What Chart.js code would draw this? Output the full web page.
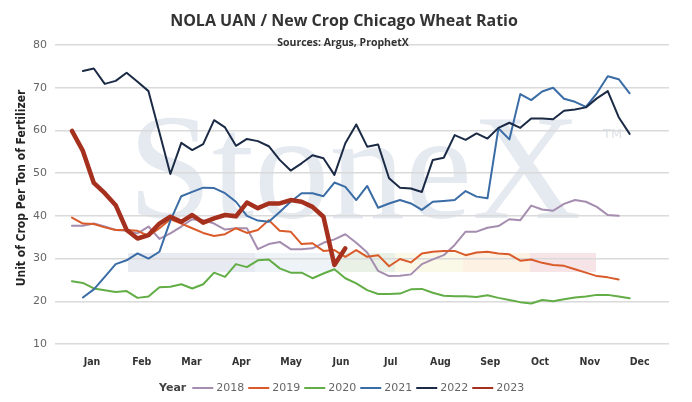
<!DOCTYPE html>
<html>
<head>
<meta charset="utf-8">
<script src="https://cdn.jsdelivr.net/npm/chart.js@4.4.0/dist/chart.umd.min.js"></script>
<style>
  html, body { margin: 0; padding: 0; background: #fff; }
</style>
</head>
<body>
<canvas id="ratioChart" width="692" height="402"></canvas>
<script>
// Week of the year (x axis) and month labels under it
const weeks = [1, 2, 3, 4, 5, 6, 7, 8, 9, 10, 11, 12, 13, 14, 15, 16, 17, 18, 19, 20, 21, 22, 23, 24, 25, 26,
    27, 28, 29, 30, 31, 32, 33, 34, 35, 36, 37, 38, 39, 40, 41, 42, 43, 44, 45, 46, 47, 48, 49, 50, 51, 52];
const months = ['Jan', 'Feb', 'Mar', 'Apr', 'May', 'Jun', 'Jul', 'Aug', 'Sep', 'Oct', 'Nov', 'Dec'];
const yTicks = [10, 20, 30, 40, 50, 60, 70, 80];
const years = ['2018', '2019', '2020', '2021', '2022', '2023'];

// Units of crop per ton of fertilizer, one value per week
const y2018 = [37.7, 37.7, 38.2, 37.5, 36.7, 36.5, 35.9, 37.5, 34.6, 35.9, 37.5, 39.2, 39.0, 38.2, 36.8, 37.1, 37.1,
    32.2, 33.4, 33.9, 32.2, 32.2, 32.4, 33.7, 34.5, 35.7, 33.7, 31.4, 27.1, 25.9, 26.0, 26.3, 28.7, 29.8, 30.8,
    33.2, 36.3, 36.3, 37.2, 37.6, 39.2, 39.0, 42.4, 41.5, 41.2, 42.8, 43.7, 43.3, 42.1, 40.2, 40.0];
const y2019 = [39.6, 38.2, 38.1, 37.3, 36.7, 36.7, 36.5, 35.3, 37.1, 39.2, 38.2, 37.1, 36.0, 35.3, 35.7, 37.1, 36.0,
    36.7, 39.0, 36.5, 36.3, 33.4, 33.6, 31.8, 32.0, 30.4, 32.0, 30.4, 30.8, 28.2, 29.9, 29.1, 31.2, 31.6, 31.8,
    31.8, 30.8, 31.4, 31.6, 31.2, 31.0, 29.5, 29.8, 29.0, 28.5, 28.3, 27.5, 26.7, 25.9, 25.6, 25.1];
const y2020 = [24.7, 24.3, 23.0, 22.6, 22.2, 22.4, 20.8, 21.1, 23.3, 23.4, 24.0, 23.0, 24.0, 26.7, 25.7, 28.7, 28.0,
    29.6, 29.8, 27.7, 26.7, 26.7, 25.4, 26.5, 27.5, 25.4, 24.2, 22.6, 21.7, 21.7, 21.8, 22.8, 22.9, 22.0, 21.3,
    21.2, 21.2, 21.0, 21.4, 20.8, 20.3, 19.8, 19.5, 20.3, 20.0, 20.5, 20.9, 21.1, 21.5, 21.5, 21.1, 20.7];
const y2021 = [null, 20.9, 22.8, 25.7, 28.7, 29.6, 31.2, 30.0, 31.6, 38.9, 44.6, 45.6, 46.6, 46.5, 45.3, 43.3, 40.0,
    38.9, 38.6, 40.9, 43.3, 45.3, 45.3, 44.6, 47.8, 46.8, 43.7, 47.0, 41.9, 42.9, 43.7, 42.9, 41.4, 43.3, 43.5,
    43.7, 45.8, 44.5, 44.1, 60.5, 57.9, 68.5, 67.1, 69.1, 70.0, 67.4, 66.7, 65.5, 68.7, 72.7, 72.0, 68.7];
const y2022 = [null, 73.9, 74.5, 70.9, 71.6, 73.5, 71.4, 69.2, 59.5, 49.8, 57.1, 55.4, 56.8, 62.4, 60.7, 56.4, 58.0,
    57.5, 56.3, 53.1, 50.6, 52.3, 54.2, 53.5, 49.6, 57.0, 61.4, 56.2, 56.7, 48.8, 46.6, 46.4, 45.6, 53.1, 53.6,
    58.9, 57.8, 59.3, 58.1, 60.6, 61.8, 60.6, 62.8, 62.8, 62.6, 64.6, 64.9, 65.4, 67.5, 69.2, 63.1, 59.2];
const y2023 = [59.9, 55.2, 47.7, 45.3, 42.5, 36.7, 34.7, 35.5, 38.2, 39.8, 38.6, 40.2, 38.4, 39.4, 40.2, 39.9, 43.1,
    41.8, 42.9, 42.9, 43.7, 43.3, 42.1, 39.8, 28.5, 32.4];

const seriesValues = [y2018, y2019, y2020, y2021, y2022, y2023];
const seriesColors = ['#a58daf', '#d95b2a', '#62ad45', '#3a6ca6', '#1b2a45', '#a5301d'];

function toPoints(values) {
    return weeks
        .map((w, i) => ({ x: w, y: values[i] }))
        .filter(p => p.y !== undefined && p.y !== null);
}

const datasets = years.map((year, i) => {
    const isCurrent = year === '2023';
    return {
        label: year,
        data: toPoints(seriesValues[i]),
        borderColor: seriesColors[i],
        backgroundColor: seriesColors[i],
        borderWidth: isCurrent ? 4.5 : 2,
        borderJoinStyle: 'round',
        borderCapStyle: 'round',
        pointRadius: 0,
        tension: 0,
        order: isCurrent ? 0 : 6 - i
    };
});

// StoneX watermark, titles and the inline legend
const decor = {
    id: 'decor',
    beforeDraw(chart) {
        const ctx = chart.ctx;
        ctx.save();
        // coloured band under the logo
        const band = [
            [128, 255, '#e7ebf1'], [255, 337, '#eef3f8'], [337, 395, '#e9f1e6'],
            [395, 463, '#faf8e7'], [463, 530, '#fcf1e2'], [530, 596, '#f6e4e6']
        ];
        band.forEach(b => {
            ctx.fillStyle = b[2];
            ctx.fillRect(b[0], 253, b[1] - b[0], 19);
        });
        ctx.fillStyle = '#e5e9f0';
        ctx.font = '151px "Liberation Serif", "DejaVu Serif", serif';
        ctx.textBaseline = 'alphabetic';
        ctx.textAlign = 'left';
        ctx.fillText('StoneX', 128, 218);
        ctx.font = '13px "DejaVu Sans", sans-serif';
        ctx.fillStyle = '#dde2e9';
        ctx.fillText('TM', 603, 138);
        ctx.restore();
    },
    afterDraw(chart) {
        const ctx = chart.ctx;
        ctx.save();
        ctx.textAlign = 'center';
        ctx.textBaseline = 'middle';
        ctx.fillStyle = '#333';
        ctx.font = 'bold 16px "Open Sans", sans-serif';
        ctx.fillText('NOLA UAN / New Crop Chicago Wheat Ratio', 344, 21);
        ctx.font = 'bold 10.5px "Open Sans", sans-serif';
        ctx.fillText('Sources: Argus, ProphetX', 343, 43);

        // y axis title
        ctx.save();
        ctx.translate(22, 188);
        ctx.rotate(-Math.PI / 2);
        ctx.font = 'bold 12px "DejaVu Sans Condensed", "DejaVu Sans", sans-serif';
        ctx.fillStyle = '#222';
        ctx.fillText('Unit of Crop Per Ton of Fertilizer', 0, 0);
        ctx.restore();

        // legend
        const ly = 388;
        let lx = 159;
        ctx.textAlign = 'left';
        ctx.font = 'bold 11px "DejaVu Sans", sans-serif';
        ctx.fillStyle = '#444';
        ctx.fillText('Year', lx, ly);
        lx += ctx.measureText('Year').width + 6;
        ctx.font = '11px "DejaVu Sans", sans-serif';
        chart.data.datasets.forEach(ds => {
            ctx.strokeStyle = ds.borderColor;
            ctx.lineWidth = 2;
            ctx.beginPath();
            ctx.moveTo(lx, ly);
            ctx.lineTo(lx + 21, ly);
            ctx.stroke();
            lx += 24;
            ctx.fillStyle = '#666';
            ctx.fillText(ds.label, lx, ly);
            lx += ctx.measureText(ds.label).width + 4;
        });
        ctx.restore();
    }
};

new Chart(document.getElementById('ratioChart'), {
    type: 'line',
    data: { datasets: datasets },
    options: {
        responsive: false,
        animation: false,
        layout: { padding: { top: 45, right: 23, bottom: 0, left: 0 } },
        plugins: {
            legend: { display: false },
            title: { display: false },
            tooltip: { enabled: false }
        },
        scales: {
            x: {
                type: 'linear',
                display: false,
                min: -0.55,
                max: 55.6
            },
            months: {
                type: 'linear',
                position: 'bottom',
                min: -0.743,
                max: 11.59,
                afterBuildTicks: scale => {
                    scale.ticks = months.map((m, i) => ({ value: i }));
                },
                afterFit: scale => { scale.height = 58; },
                grid: { display: false, drawTicks: false },
                border: { display: false },
                ticks: {
                    autoSkip: false,
                    maxRotation: 0,
                    padding: 12,
                    color: '#333',
                    font: { family: '"DejaVu Sans Condensed", "DejaVu Sans", sans-serif', size: 10.5, weight: 'bold' },
                    callback: value => months[value]
                }
            },
            y: {
                min: 10,
                max: 80,
                afterBuildTicks: scale => {
                    scale.ticks = yTicks.map(v => ({ value: v }));
                },
                afterFit: scale => { scale.width = 55; },
                grid: { color: '#dadada', lineWidth: 1.5, drawTicks: false },
                border: { display: false },
                ticks: {
                    padding: 8,
                    color: '#666',
                    font: { family: '"DejaVu Sans", sans-serif', size: 11 }
                }
            }
        }
    },
    plugins: [decor]
});
</script>
</body>
</html>
